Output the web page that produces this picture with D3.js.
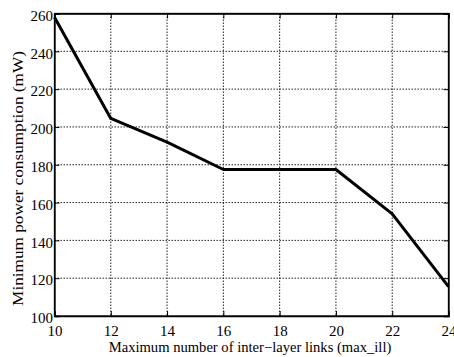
<!DOCTYPE html>
<html><head><meta charset="utf-8">
<script src="https://cdn.jsdelivr.net/npm/d3@7"></script>
<style>body{margin:0;background:#fff}svg{display:block}text{font-family:"Liberation Serif","Times New Roman",serif;fill:#000}</style>
</head><body><svg id="c" width="454" height="357"></svg>
<script>
const xValues = [10, 12, 14, 16, 18, 20, 22, 24];
const powerValues = [258, 204.5, 192, 177.5, 177.5, 177.5, 154, 115.5];
const xTicks = [10, 12, 14, 16, 18, 20, 22, 24];
const yTicks = [100, 120, 140, 160, 180, 200, 220, 240, 260];
const xLabel = "Maximum number of inter\u2212layer links (max_ill)";
const yLabel = "Minimum power consumption (mW)";

const svg = d3.select("#c");
const L = 54.5, R = 448.5, T = 13.5, B = 316;
const x = d3.scaleLinear().domain([10, 24]).range([L, R]);
const y = d3.scaleLinear().domain([100, 260]).range([B, T]);

svg.append("g").selectAll("line").data(xTicks.slice(1, -1)).join("line")
  .attr("x1", d => x(d)).attr("x2", d => x(d)).attr("y1", T).attr("y2", B)
  .attr("stroke", "#222").attr("stroke-width", 1).attr("stroke-dasharray", "1.5,1.5");
svg.append("g").selectAll("line").data(yTicks.slice(1, -1)).join("line")
  .attr("y1", d => y(d)).attr("y2", d => y(d)).attr("x1", L).attr("x2", R)
  .attr("stroke", "#222").attr("stroke-width", 1).attr("stroke-dasharray", "1.5,1.5");

const ax = d3.axisBottom(x).tickValues(xTicks).tickSize(-5).tickPadding(9).tickFormat(d3.format("d"));
const ay = d3.axisLeft(y).tickValues(yTicks).tickSize(-5).tickPadding(1.5).tickFormat(d3.format("d"));
const gx = svg.append("g").attr("transform", `translate(0,${B})`).call(ax);
const gy = svg.append("g").attr("transform", `translate(${L},0)`).call(ay);
svg.append("g").attr("transform", `translate(0,${T})`).call(d3.axisTop(x).tickValues(xTicks).tickSize(-5).tickFormat(""));
svg.append("g").attr("transform", `translate(${R},0)`).call(d3.axisRight(y).tickValues(yTicks).tickSize(-5).tickFormat(""));
svg.selectAll(".domain").attr("stroke", "#000").attr("stroke-width", 1.3);
svg.selectAll(".tick line").attr("stroke", "#000");
gx.selectAll("text").style("font-size", "15px").attr("dy", "0.71em");
gy.selectAll("text").style("font-size", "15px").attr("dy", "0.45em");

svg.append("rect").attr("x", L).attr("y", T).attr("width", R - L).attr("height", B - T)
  .attr("fill", "none").attr("stroke", "#000").attr("stroke-width", 1.3);

svg.append("path").datum(xValues.map((d, i) => [d, powerValues[i]]))
  .attr("d", d3.line().x(d => x(d[0])).y(d => y(d[1])))
  .attr("fill", "none").attr("stroke", "#000").attr("stroke-width", 3).attr("stroke-linejoin", "round");

svg.append("text").attr("x", 250).attr("y", 352).attr("text-anchor", "middle")
  .style("font-size", "14.6px").text(xLabel);
svg.append("text").attr("transform", `translate(23,178.5) rotate(-90) scale(1.18,1)`).attr("text-anchor", "middle")
  .style("font-size", "14.6px").text(yLabel);
</script></body></html>
